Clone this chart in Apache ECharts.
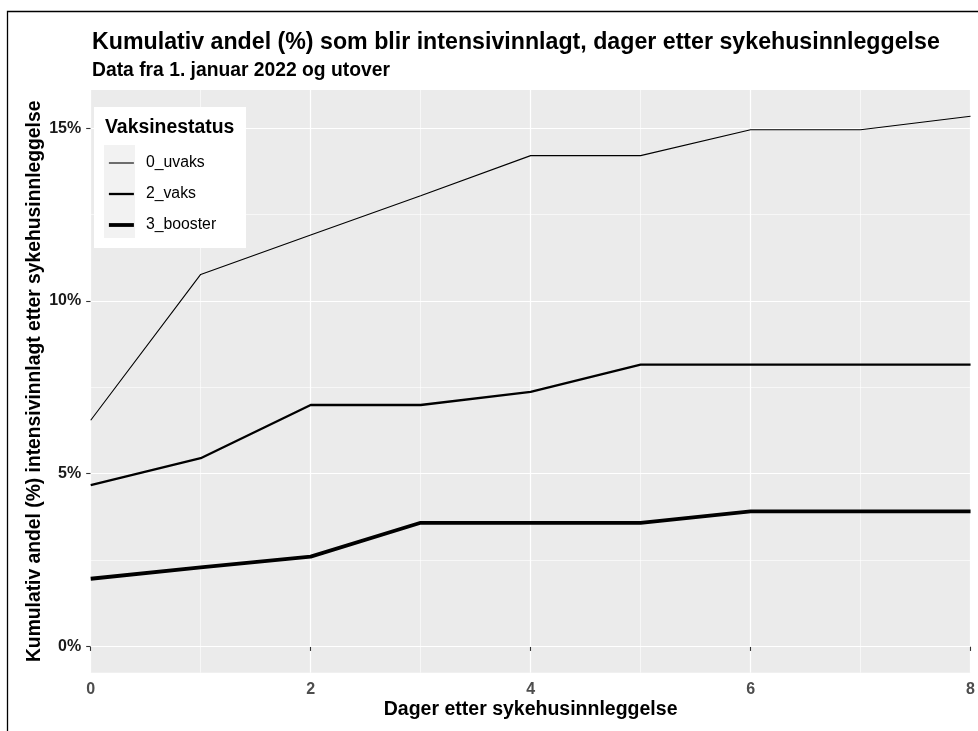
<!DOCTYPE html>
<html>
<head>
<meta charset="utf-8">
<script src="https://cdn.jsdelivr.net/npm/echarts@6/dist/echarts.min.js"></script>
<style>
html,body{margin:0;padding:0;background:#fff;}
#chart{width:978px;height:731px;}
</style>
</head>
<body>
<div id="chart"></div>
<script>
// ---- data (percent) ----
const days = [0, 1, 2, 3, 4, 5, 6, 7, 8];
const uvaks = [6.55, 10.77, 11.91, 13.05, 14.21, 14.21, 14.96, 14.96, 15.35];
const vaks = [4.67, 5.45, 6.99, 6.99, 7.37, 8.16, 8.16, 8.16, 8.16];
const booster = [1.96, 2.29, 2.60, 3.58, 3.58, 3.58, 3.91, 3.91, 3.91];
const seriesNames = ['0_uvaks', '2_vaks', '3_booster'];
const yTicks = [0, 5, 10, 15];
const yMinor = [2.5, 7.5, 12.5];
const xTicks = [0, 2, 4, 6, 8];

const FONT = "'Liberation Sans', Arial, Helvetica, sans-serif";
const lineWidths = [1.1, 2.3, 3.8];

const toPairs = arr => days.map((d, i) => [d, arr[i]]);

const gridLines = yTicks.map(v => ({ yAxis: v, lineStyle: { color: '#ffffff', width: 1.2, type: 'solid' } }))
  .concat(yMinor.map(v => ({ yAxis: v, lineStyle: { color: '#ffffff', width: 0.6, type: 'solid' } })));

const chart = echarts.init(document.getElementById('chart'), null, { renderer: 'canvas' });

const lineSeries = (name, arr, w, extra) => Object.assign({
  name: name,
  type: 'line',
  data: toPairs(arr),
  symbol: 'none',
  showSymbol: false,
  z: 3,
  lineStyle: { color: '#000000', width: w },
  itemStyle: { color: '#000000' },
  emphasis: { disabled: true },
  animation: false
}, extra || {});

chart.setOption({
  animation: false,
  textStyle: { fontFamily: FONT },
  title: [
    {
      text: 'Kumulativ andel (%) som blir intensivinnlagt, dager etter sykehusinnleggelse',
      left: 92, top: 31.5, padding: 0,
      textStyle: { fontFamily: FONT, fontSize: 23.2, fontWeight: 'bold', color: '#000' }
    },
    {
      text: 'Data fra 1. januar 2022 og utover',
      left: 92, top: 61, padding: 0,
      textStyle: { fontFamily: FONT, fontSize: 19.3, fontWeight: 'bold', color: '#000' }
    }
  ],
  grid: {
    left: 90.7, right: 4.5, top: 90, bottom: 58.3,
    show: true, backgroundColor: '#ebebeb', borderWidth: 0
  },
  xAxis: {
    type: 'value', min: 0, max: 8, interval: 2,
    name: 'Dager etter sykehusinnleggelse',
    nameLocation: 'middle', nameGap: 27, nameMoveOverlap: false,
    nameTextStyle: { fontFamily: FONT, fontSize: 19.5, fontWeight: 'bold', color: '#000' },
    axisLine: { show: false },
    axisTick: { show: true, length: 4.5, lineStyle: { color: '#333', width: 1.1 } },
    axisLabel: { fontFamily: FONT, fontSize: 16, fontWeight: 'bold', color: '#4d4d4d', margin: 8.5 },
    splitLine: { show: true, lineStyle: { color: '#ffffff', width: 1.2 } },
    minorTick: { show: false, splitNumber: 2 },
    minorSplitLine: { show: true, lineStyle: { color: '#ffffff', width: 0.6 } }
  },
  yAxis: {
    type: 'value', min: -0.76, max: 16.11,
    name: 'Kumulativ andel (%) intensivinnlagt etter sykehusinnleggelse',
    nameLocation: 'middle', nameGap: 46.5, nameRotate: 90, nameMoveOverlap: false,
    nameTextStyle: { fontFamily: FONT, fontSize: 19.3, fontWeight: 'bold', color: '#000' },
    axisLine: { show: false },
    axisTick: { show: true, length: 4.5, customValues: yTicks, lineStyle: { color: '#333', width: 1.1 } },
    axisLabel: {
      fontFamily: FONT, fontSize: 16, fontWeight: 'bold', color: '#1a1a1a', margin: 9.5,
      customValues: yTicks,
      formatter: v => v + '%'
    },
    splitLine: { show: false }
  },
  legend: {
    orient: 'vertical',
    left: 107, top: 155, padding: 0,
    itemWidth: 25, itemHeight: 14, itemGap: 15,
    data: seriesNames.map((n, i) => ({ name: n, lineStyle: { width: lineWidths[i], color: '#000' } })),
    selectedMode: false,
    itemStyle: { color: 'rgba(0,0,0,0)', borderWidth: 0, opacity: 0 },
    textStyle: { fontFamily: FONT, fontSize: 15.8, color: '#000', lineHeight: 16, padding: [0, 0, 0, 7] }
  },
  graphic: [
    { type: 'rect', z: 3, silent: true, shape: { x: 94, y: 107, width: 152, height: 141 }, style: { fill: '#ffffff' } },
    { type: 'rect', z: 3.5, silent: true, shape: { x: 104, y: 145, width: 31, height: 93 }, style: { fill: '#f2f2f2' } },
    { type: 'text', z: 5, silent: true, x: 105, y: 127.7,
      style: { text: 'Vaksinestatus', fontFamily: FONT, fontSize: 19.4, fontWeight: 'bold', fill: '#000', verticalAlign: 'middle', align: 'left' } },
    { type: 'rect', z: 10, silent: true, shape: { x: 7.5, y: 11.5, width: 1200, height: 1200 }, style: { fill: 'none', stroke: '#000', lineWidth: 1.3 } }
  ],
  series: [
    lineSeries(seriesNames[0], uvaks, lineWidths[0], {
      markLine: { silent: true, z: 1, symbol: 'none', label: { show: false }, animation: false, emphasis: { disabled: true }, data: gridLines }
    }),
    lineSeries(seriesNames[1], vaks, lineWidths[1]),
    lineSeries(seriesNames[2], booster, lineWidths[2])
  ]
});
</script>
</body>
</html>
